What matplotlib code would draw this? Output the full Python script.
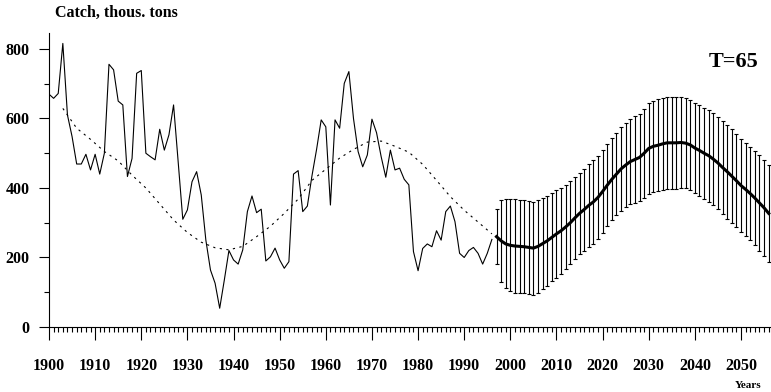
import matplotlib.pyplot as plt
import numpy as np

# observed catch, 1900-1996
years = np.arange(1900, 1997)
catch = [670, 658, 672, 816, 610, 548, 469, 469, 497, 452,
         497, 440, 500, 756, 740, 650, 639, 433, 485, 730,
         738, 500, 490, 481, 569, 509, 553, 639, 475, 310,
         337, 418, 447, 380, 250, 164, 126, 54, 135, 220,
         193, 181, 222, 332, 377, 329, 339, 190, 202, 227,
         193, 169, 188, 440, 450, 332, 348, 435, 511, 596,
         576, 351, 596, 572, 701, 735, 600, 505, 461, 495,
         598, 559, 490, 431, 509, 452, 457, 425, 409, 217,
         162, 226, 239, 231, 277, 250, 332, 348, 303, 212,
         200, 220, 229, 212, 181, 212, 252]

# smoothed curve (dashed)
smooth_years = np.arange(1903, 1997, 3)
smooth = [629, 572, 540, 505, 478, 437, 400, 354, 308, 272,
          244, 228, 222, 232, 260, 290, 327, 368, 422, 454,
          486, 511, 532, 535, 520, 503, 468, 422, 375, 336,
          302, 268]

# forecast 1997-2056
fc_years = np.arange(1997, 2057)
fc_mean = [260, 248, 239, 235, 233, 232, 231, 229, 227, 232,
           240, 248, 258, 268, 277, 288, 300, 314, 327, 338,
           350, 360, 373, 390, 408, 425, 440, 455, 466, 476,
           482, 488, 500, 514, 520, 523, 527, 530, 530, 530,
           531, 529, 524, 515, 508, 500, 493, 483, 472, 459,
           447, 434, 421, 407, 396, 384, 371, 357, 343, 327]
fc_err = [80, 118, 128, 132, 134, 134, 134, 134, 134, 133,
          131, 129, 127, 126, 124, 122, 120, 118, 117, 118,
          119, 120, 120, 119, 118, 118, 119, 120, 121, 122,
          124, 126, 128, 130, 131, 132, 133, 133, 133, 132,
          131, 130, 130, 130, 130, 131, 132, 132, 133, 134,
          135, 135, 134, 133, 133, 134, 135, 137, 138, 139]

plt.rcParams['font.family'] = ['Liberation Serif', 'DejaVu Serif']
plt.rcParams['font.weight'] = 'bold'

fig = plt.figure(figsize=(7.71, 3.92), dpi=100)
ax = fig.add_axes([49/771, 65/392, 722/771, 294/392])

ax.plot(years, catch, color='black', lw=0.8)
ax.plot(smooth_years, smooth, color='black', lw=0.8, linestyle=(0, (2, 4)))
ax.errorbar(fc_years, fc_mean, yerr=fc_err, fmt='none', ecolor='black',
            elinewidth=0.8, capsize=1.5, capthick=0.8)
ax.plot(fc_years, fc_mean, color='black', lw=2.2)

ax.set_xlim(1900, 2056.5)
ax.set_ylim(0, 846)
ax.spines['top'].set_visible(False)
ax.spines['right'].set_visible(False)
ax.spines['left'].set_linewidth(0.8)
ax.spines['bottom'].set_linewidth(0.8)

ax.set_xticks(np.arange(1900, 2051, 10))
ax.set_xticks(np.arange(1900, 2057, 1), minor=True)
ax.set_yticks([0, 200, 400, 600, 800])
ax.set_yticks([100, 300, 500, 700], minor=True)
ax.tick_params(axis='x', which='major', length=9.5, width=0.8, pad=13, labelsize=11.5)
ax.tick_params(axis='x', which='minor', length=3.5, width=0.8)
ax.tick_params(axis='y', which='major', length=7, width=0.8, pad=7, labelsize=11.5)
ax.tick_params(axis='y', which='minor', length=3.5, width=0.8)

fig.text(55/771, 1 - 13/392, 'Catch, thous. tons', ha='left', va='center', fontsize=11.5)
fig.text(758/771, 1 - 62/392, 'T=65', ha='right', va='center', fontsize=16)
fig.text(748/771, 1 - 385/392, 'Years', ha='center', va='center', fontsize=8)

plt.savefig('out.png', dpi=100)
